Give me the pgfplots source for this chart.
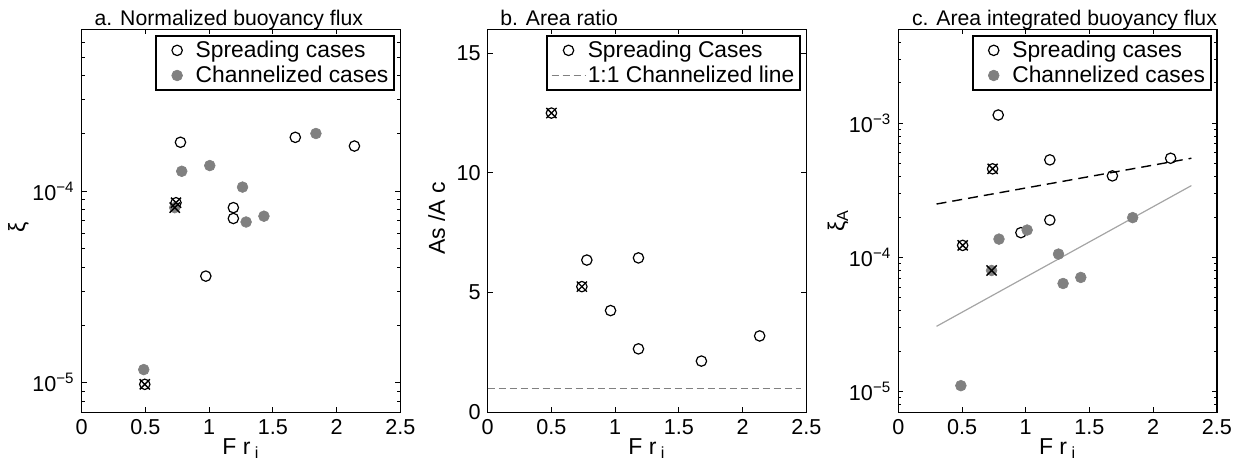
\documentclass[border=0pt]{standalone}
\usepackage{fontspec}
\setmainfont{Liberation Sans}
\usepackage{pgfplots}
\pgfplotsset{compat=1.18}
\definecolor{fillgray}{RGB}{128,128,128}
\definecolor{fitgray}{RGB}{165,165,165}
\begin{document}
\begin{tikzpicture}
\path[use as bounding box] (0pt,0pt) rectangle (621.5pt,230.5pt);
\pgfplotsset{
  myaxis/.style={
    scale only axis, width=159.3pt, height=191.5pt, anchor=south west,
    xmin=0, xmax=2.5, xtick={0,0.5,1,1.5,2,2.5}, xticklabels={0,0.5,1,1.5,2,2.5},
    tick align=inside, major tick length=2.5pt, minor tick length=1.5pt,
    axis line style={line width=0.6pt},
    every tick/.style={black, line width=0.5pt},
    tick label style={font=\fontsize{10.8}{12}\selectfont},
    /pgf/number format/assume math mode=true,
    legend style={at={(axis description cs:1,1)}, anchor=north east,
      xshift=-2.7pt, yshift=-2.9pt, draw=black, line width=0.9pt,
      font=\fontsize{11.4}{13}\selectfont, inner xsep=2pt, inner ysep=1.5pt,
      nodes={inner sep=0.8pt}, row sep=1.2pt},
    legend cell align=left,
    xlabel={F r\textsubscript{ i}},
    xlabel style={at={(axis description cs:0.5,0)}, anchor=base, yshift=-21.3pt,
      font=\fontsize{11.5}{13}\selectfont},
    ylabel style={font=\fontsize{11.5}{13}\selectfont, anchor=center},
  },
  markimg/.style={legend image code/.code={%
      \path[draw=none, fill=none] (0pt,-2pt) rectangle (17pt,2pt);
      \draw[##1] plot coordinates {(8.5pt,0pt)};}},
  openm/.style={only marks, mark=o, mark size=2.6pt, mark options={draw=black, line width=0.6pt}, markimg},
  fillm/.style={only marks, mark=*, mark size=2.7pt, mark options={draw=fillgray, fill=fillgray, line width=0.3pt}, markimg},
  crossm/.style={only marks, mark=x, mark size=3.6pt, mark options={draw=black, line width=0.7pt}, forget plot},
}
% panel a
\begin{axis}[myaxis, at={(40.85pt,24.35pt)}, ymode=log, ymin=7e-6, ymax=7e-4,
  ytick={1e-5,1e-4}, yticklabels={10\textsuperscript{−5},10\textsuperscript{−4}},
  minor ytick={8e-6,9e-6,2e-5,3e-5,4e-5,5e-5,6e-5,7e-5,8e-5,9e-5,2e-4,3e-4,4e-4,5e-4,6e-4,7e-4},
  ylabel={ξ}, ylabel style={at={(axis description cs:-0.198,0.484)}}]
\addplot[openm] coordinates {(0.775,1.80e-4) (1.676,1.91e-4) (2.14,1.72e-4) (1.19,8.2e-5) (1.19,7.2e-5) (0.974,3.6e-5) (0.74,8.7e-5) (0.495,9.8e-6)};
\addlegendentry{Spreading cases}
\addplot[fillm] coordinates {(0.785,1.27e-4) (1.005,1.36e-4) (1.262,1.05e-4) (1.29,6.9e-5) (1.43,7.4e-5) (1.838,2.0e-4) (0.487,1.17e-5) (0.73,8.2e-5)};
\addlegendentry{Channelized cases}
\addplot[crossm] coordinates {(0.74,8.7e-5) (0.73,8.2e-5) (0.495,9.8e-6)};
\end{axis}
\node[anchor=base west, font=\fontsize{10.6}{12}\selectfont, inner sep=0pt] at (47.15pt,217.5pt) {a. Normalized buoyancy flux};
% panel b
\begin{axis}[myaxis, at={(243.85pt,24.35pt)}, ymin=0, ymax=16,
  ytick={0,5,10,15}, yticklabels={0,5,10,15},
  ylabel={As /A c}, ylabel style={at={(axis description cs:-0.1605,0.5065)}}]
\addplot[openm] coordinates {(0.50,12.5) (0.778,6.36) (1.183,6.45) (0.739,5.25) (0.964,4.25) (1.183,2.65) (1.677,2.14) (2.134,3.19)};
\addlegendentry{Spreading Cases}
\addplot[fillgray, line width=0.5pt, dash pattern=on 3.5pt off 2pt] coordinates {(0,1) (2.46,1)};
\addlegendentry{1:1 Channelized line}
\addplot[crossm] coordinates {(0.50,12.5) (0.739,5.25)};
\end{axis}
\node[anchor=base west, font=\fontsize{10.6}{12}\selectfont, inner sep=0pt] at (250pt,217.5pt) {b. Area ratio};
% panel c
\begin{axis}[myaxis, at={(449.15pt,24.35pt)}, ymode=log, ymin=7.03e-6, ymax=5e-3,
  ytick={1e-5,1e-4,1e-3}, yticklabels={10\textsuperscript{−5},10\textsuperscript{−4},10\textsuperscript{−3}},
  minor ytick={8e-6,9e-6,2e-5,3e-5,4e-5,5e-5,6e-5,7e-5,8e-5,9e-5,2e-4,3e-4,4e-4,5e-4,6e-4,7e-4,8e-4,9e-4,2e-3,3e-3,4e-3,5e-3},
  ylabel={ξ\textsubscript{A}}, ylabel style={at={(axis description cs:-0.189,0.5)}}]
\addplot[black, line width=0.7pt, dash pattern=on 5pt off 3pt, forget plot] coordinates {(0.3,2.5e-4) (2.3,5.48e-4)};
\addplot[fitgray, line width=0.6pt, forget plot] coordinates {(0.3,3.07e-5) (2.3,3.43e-4)};
\addplot[openm] coordinates {(0.784,1.15e-3) (1.189,5.33e-4) (2.137,5.48e-4) (1.68,4.05e-4) (1.189,1.9e-4) (0.962,1.53e-4) (0.74,4.57e-4) (0.505,1.23e-4)};
\addlegendentry{Spreading cases}
\addplot[fillm] coordinates {(0.79,1.37e-4) (1.011,1.6e-4) (1.257,1.06e-4) (1.293,6.4e-5) (1.432,7.1e-5) (1.839,1.98e-4) (0.491,1.11e-5) (0.732,8.0e-5)};
\addlegendentry{Channelized cases}
\addplot[crossm] coordinates {(0.74,4.57e-4) (0.505,1.23e-4) (0.732,8.0e-5)};
\end{axis}
\node[anchor=base west, font=\fontsize{10.6}{12}\selectfont, inner sep=0pt] at (455.85pt,217.5pt) {c. Area integrated buoyancy flux};
\end{tikzpicture}
\end{document}
